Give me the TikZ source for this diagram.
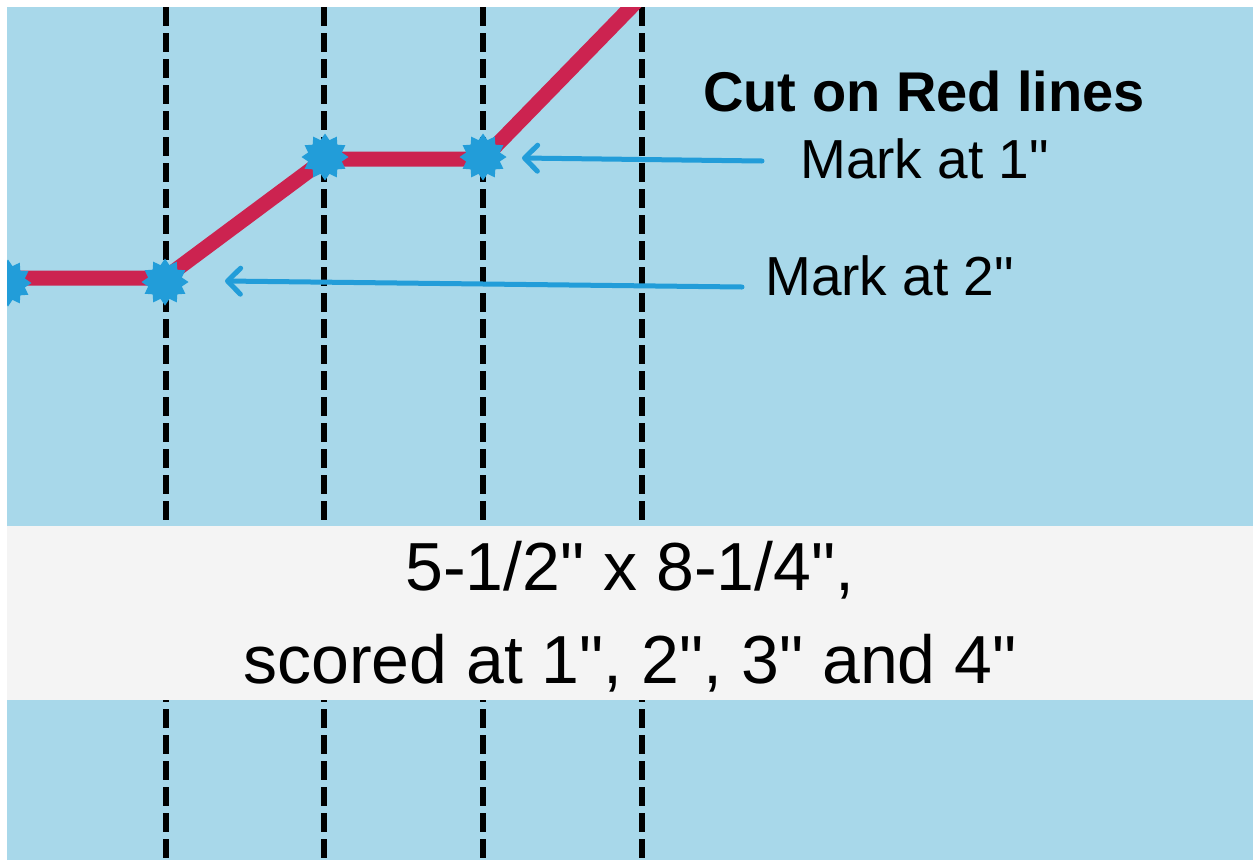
\documentclass[tikz,border=0pt]{standalone}
\usepackage{fontspec}
\setmainfont{Liberation Sans}[Ligatures=TeXOff]
\usetikzlibrary{shapes.geometric,arrows.meta}
\definecolor{bgblue}{HTML}{A8D8EA}
\definecolor{bandgray}{HTML}{F4F4F4}
\definecolor{cutred}{HTML}{CC2350}
\definecolor{markblue}{HTML}{229DD9}
\newcommand{\inch}{\symbol{34}}
\tikzset{
  scoreline/.style={line width=6pt, dash pattern=on 19pt off 7pt, black},
  cutline/.style={line width=15pt, cutred, line join=miter},
  markstar/.style={star, star points=12, star point ratio=1.35, minimum size=47pt, inner sep=0pt, fill=markblue, draw=none},
  pointer/.style={line width=5pt, markblue, line cap=round, -{Straight Barb[length=13pt,width=26pt,round]}},
  label/.style={inner sep=0pt, anchor=base west, font=\fontsize{55}{60}\selectfont},
  bandtext/.style={inner sep=0pt, anchor=base, font=\fontsize{68}{80}\selectfont}
}
\begin{document}
\begin{tikzpicture}[x=1pt,y=-1pt]
\fill[white] (0,0) rectangle (1253,860);
\useasboundingbox (0,0) rectangle (1253,860);
\begin{scope}
\clip (7,7) rectangle (1253,860);
\fill[bgblue] (7,7) rectangle (1253,860);
% score lines
\foreach \x in {166,324,483,642} \draw[scoreline] (\x,7) -- (\x,860);
% band
\fill[bandgray] (7,526) rectangle (1253,700);
% cut line vertices
\coordinate (c0) at (0,278);
\coordinate (c1) at (165,278);
\coordinate (c2) at (325,159);
\coordinate (c3) at (483,159);
\coordinate (c4) at (636,2);
\draw[cutline] (c0) -- (c1) -- (c2) -- (c3) -- (c4);
% stars
\node[markstar] (s0) at (8,283) {};
\node[markstar] (s1) at (165,282) {};
\node[markstar] (s2) at (325,157) {};
\node[markstar] (s3) at (483,157) {};
\end{scope}
% texts
\node[label, font=\fontsize{56}{60}\selectfont\bfseries] (cut) at (703,111) {Cut on Red lines};
\node[label] (m1) at (800,178) {Mark at 1\inch};
\node[label] (m2) at (765,295) {Mark at 2\inch};
\node[bandtext] (b1) at (630,590) {5-1/2\inch{} x 8-1/4\inch,};
\node[bandtext] (b2) at (630,683) {scored at 1\inch, 2\inch, 3\inch{} and 4\inch};
% pointers
\coordinate (p1s) at (762,161);
\coordinate (p1e) at (522,158);
\coordinate (p2s) at (742,287);
\coordinate (p2e) at (225,281);
\draw[pointer] (p1s) -- (p1e);
\draw[pointer] (p2s) -- (p2e);
\end{tikzpicture}
\end{document}
